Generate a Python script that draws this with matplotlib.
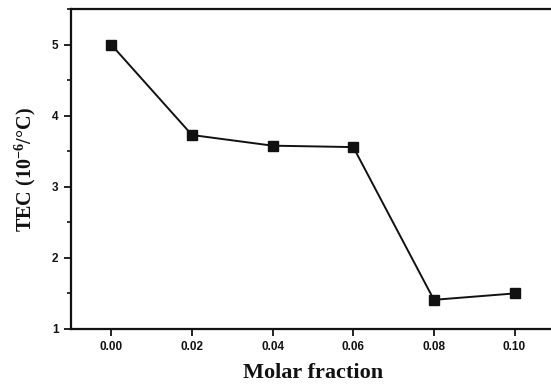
import matplotlib
matplotlib.use("Agg")
import matplotlib.pyplot as plt
from matplotlib.ticker import MultipleLocator

plt.rcParams["mathtext.fontset"] = "custom"
plt.rcParams["mathtext.rm"] = "Liberation Serif:bold"
plt.rcParams["mathtext.bf"] = "Liberation Serif:bold"
plt.rcParams["mathtext.it"] = "Liberation Serif:bold"

molar_fraction = [0.00, 0.02, 0.04, 0.06, 0.08, 0.10]
tec_values = [5.00, 3.73, 3.58, 3.56, 1.41, 1.50]
x_ticks = [0.00, 0.02, 0.04, 0.06, 0.08, 0.10]
x_tick_labels = ["0.00", "0.02", "0.04", "0.06", "0.08", "0.10"]
y_ticks = [1, 2, 3, 4, 5]

fig = plt.figure(figsize=(5.51, 3.87), dpi=100)
ax = fig.add_axes([0.129, 0.150, 0.878, 0.826])

ax.plot(molar_fraction, tec_values, color="#111111", linewidth=1.4,
        marker="s", markersize=7, markerfacecolor="#111111",
        markeredgecolor="#111111")

ax.set_xlim(-0.01, 0.11)
ax.set_ylim(1, 5.5)
ax.set_xticks(x_ticks)
ax.set_xticklabels(x_tick_labels)
ax.set_yticks(y_ticks)
ax.yaxis.set_minor_locator(MultipleLocator(0.5))

for s in ax.spines.values():
    s.set_linewidth(1.6)
    s.set_color("#111111")

ax.tick_params(axis="both", which="major", direction="out", length=5,
               width=1.3, labelsize=8.5, colors="#111111", pad=4)
ax.tick_params(axis="y", which="minor", direction="out", length=3, width=1.2,
               colors="#111111")
for lab in ax.get_xticklabels() + ax.get_yticklabels():
    lab.set_fontweight("bold")
    lab.set_family("Liberation Sans")

ax.set_xlabel("Molar fraction", fontsize=16, fontweight="bold",
              family="Liberation Serif", labelpad=7, color="#111111")
ax.set_ylabel("TEC (10$^{-6}$/°C)", fontsize=14.5, fontweight="bold",
              family="Liberation Serif", labelpad=10, color="#111111")

fig.savefig("out.png", dpi=100)
